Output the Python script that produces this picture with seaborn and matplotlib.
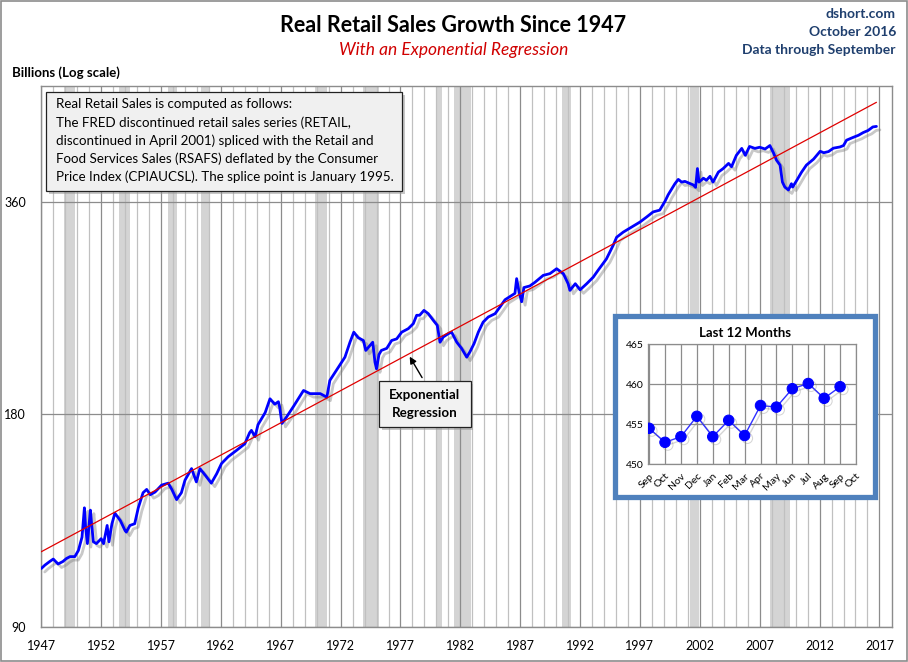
import numpy as np
import matplotlib
matplotlib.use("Agg")
import matplotlib.pyplot as plt
import matplotlib.patheffects as pe
from matplotlib.patches import Rectangle
from matplotlib.ticker import NullLocator, FixedLocator
import seaborn as sns

# ---------------- data ----------------
years = [1947.0, 1947.3, 1947.7, 1948.0, 1948.4, 1948.8, 1949.1, 1949.4, 1949.8,
         1950.1, 1950.4, 1950.6, 1950.7, 1950.85, 1951.1, 1951.2, 1951.35, 1951.6,
         1952.0, 1952.2, 1952.5, 1952.65, 1952.9, 1953.15, 1953.6, 1954.0, 1954.1,
         1954.4, 1954.8, 1955.1, 1955.5, 1955.8, 1956.1, 1956.5, 1957.05, 1957.6,
         1957.9, 1958.3, 1958.7, 1959.0, 1959.55, 1959.95, 1960.25, 1960.7, 1961.2,
         1961.65, 1962.05, 1962.6, 1963.3, 1964.0, 1964.4, 1964.55, 1964.85, 1965.1,
         1965.7, 1966.1, 1966.5, 1966.8, 1966.9, 1967.1, 1967.5, 1968.05, 1968.9,
         1969.45, 1970.3, 1970.85, 1971.1,
         1971.8, 1972.36, 1972.78, 1973.1, 1973.47, 1973.9, 1974.1, 1974.45, 1974.68,
         1974.87, 1975.0, 1975.2, 1975.4, 1975.85, 1976.26, 1976.68, 1977.1, 1977.65,
         1978.07, 1978.35, 1978.6, 1978.96, 1979.32, 1979.74, 1980.07, 1980.3, 1980.57,
         1981.0, 1981.27, 1981.7, 1982.1, 1982.53, 1982.8, 1983.14, 1983.5, 1983.9,
         1984.33, 1984.9, 1985.3, 1985.73, 1986.14, 1986.56, 1986.7, 1986.9, 1987.12,
         1987.31, 1987.8, 1988.23, 1988.92, 1989.48, 1990.04, 1990.6, 1991.0, 1991.15,
         1991.6, 1992.0, 1992.55, 1993.1, 1993.5, 1994.2, 1994.75, 1995.05, 1995.6,
         1996.3, 1997.0, 1997.55, 1998.1, 1998.65, 1999.1,
         1999.36, 1999.92, 2000.2, 2000.48, 2000.75, 2001.2, 2001.45, 2001.65, 2001.8,
         2001.93, 2002.3, 2002.55, 2002.85, 2003.1, 2003.55, 2003.95, 2004.4, 2004.65,
         2005.05, 2005.5, 2005.8, 2006.15, 2006.6, 2007.0, 2007.45, 2007.85, 2008.15,
         2008.4, 2008.7, 2008.9, 2009.1, 2009.4, 2009.65, 2009.75, 2010.1, 2010.5,
         2010.9, 2011.5, 2012.05, 2012.35, 2012.75, 2013.15, 2013.7, 2014.0, 2014.25,
         2014.8, 2015.25, 2015.65, 2016.05, 2016.45, 2016.75]
sales = [108.9, 110.1, 111.4, 112.3, 110.5, 111.4, 112.5, 113.2, 113.2,
         115.5, 120.6, 132.7, 124.6, 118.1, 131.7, 126.0, 118.8, 118.1,
         120.0, 118.1, 125.3, 118.8, 126.0, 130.4, 127.3, 123.2, 122.6,
         125.3, 126.0, 132.7, 139.4, 140.9, 138.5, 139.7, 142.9, 143.8,
         140.9, 136.3, 139.4, 145.2, 150.8, 144.4, 150.8, 147.5, 143.8,
         148.3, 153.3, 156.7, 160.0, 163.5, 169.5, 170.8, 167.3, 174.0,
         181.0, 189.3, 186.0, 187.5, 184.5, 174.7, 178.6, 184.5, 194.5,
         192.5, 192.5, 190.3, 201.0,
         209.7, 216.8, 227.6, 235.2, 231.0, 228.9, 221.6, 225.2, 227.6,
         213.2, 208.7, 218.6, 221.6, 223.1, 228.9, 230.1, 235.2, 237.9,
         241.8, 248.5, 248.5, 252.5, 249.8, 244.4, 240.5, 227.6, 231.5,
         234.1, 235.2, 227.6, 223.1, 216.8, 220.6, 226.5, 235.2, 243.0,
         247.1, 249.8, 255.2, 261.4, 264.1, 266.9, 280.0, 268.3, 259.7,
         272.0, 273.4, 276.7, 283.0, 284.6, 289.2, 284.6, 275.4, 269.5,
         275.4, 270.0, 275.4, 281.4, 287.7, 298.6, 311.8, 320.4, 325.8,
         331.2, 336.7, 342.2, 348.0, 350.0, 360.5,
         368.1, 381.5, 386.9, 383.5, 384.4, 381.5, 380.0, 377.0, 400.8,
         383.5, 388.4, 385.8, 390.8, 383.5, 396.2, 400.8, 407.6, 403.2,
         418.4, 428.0, 418.4, 430.7, 428.0, 429.6, 427.2, 432.0, 421.8,
         412.0, 405.3, 383.5, 377.3, 373.8, 381.5, 377.3, 385.8, 396.2,
         405.3, 413.3, 424.0, 422.0, 423.6, 428.3, 430.0, 432.0, 439.6,
         443.6, 446.7, 450.7, 453.7, 459.0, 459.8]

rec_start = [1948.9, 1953.5, 1957.6, 1960.3, 1969.9, 1973.85, 1980.0, 1981.5, 1990.5, 2001.2, 2007.9]
rec_end   = [1949.8, 1954.4, 1958.3, 1961.1, 1970.9, 1975.2, 1980.5, 1982.9, 1991.2, 2001.9, 2009.5]

tick_years = list(range(1947, 2018, 5))
y_ticks = [90, 180, 360]

inset_months = ["Sep", "Oct", "Nov", "Dec", "Jan", "Feb", "Mar", "Apr", "May",
                "Jun", "Jul", "Aug", "Sep", "Oct"]
inset_vals = [454.5, 452.75, 453.45, 456.0, 453.45, 455.5, 453.6, 457.35, 457.15,
              459.45, 460.1, 458.25, 459.7]
inset_ticks = [450, 455, 460, 465]

# ---------------- style ----------------
sns.set_style("white")
plt.rcParams['font.family'] = ['Lato', 'DejaVu Sans']

W, H = 908, 662
fig = plt.figure(figsize=(W / 100, H / 100), dpi=100)


def fx(px):
    return px / W


def fy(py):
    return 1 - py / H


# outer border
fig.add_artist(Rectangle((0.001, 0.001), 0.998, 0.997, transform=fig.transFigure,
                         fill=False, edgecolor="#8c8c8c", linewidth=1.2, zorder=0))

# main axes
L, R, T, B = 41.3, 892, 85.7, 627
ax = fig.add_axes([fx(L), fy(B), fx(R - L), (B - T) / H])
ax.set_zorder(0)

for s, e in zip(rec_start, rec_end):
    ax.axvspan(s, e, color="#d4d4d4", lw=0, zorder=0.2)

# regression fit from data
coef = np.polyfit(np.array(years), np.log(np.array(sales)), 1)
reg_x = np.array([years[0], years[-1]])
reg_y = np.exp(np.polyval(coef, reg_x))

sns.lineplot(x=years, y=sales, ax=ax, color="#0000ff", linewidth=2.0, zorder=3,
             path_effects=[pe.SimpleLineShadow(offset=(2.5, -2.5), shadow_color="#777777", alpha=0.4),
                           pe.Normal()])
sns.lineplot(x=reg_x, y=reg_y, ax=ax, color="#e00000", linewidth=0.9, zorder=4)

ax.set_yscale("log")
ax.set_ylim(90, 525)
ax.set_xlim(1947, 2018.05)
ax.yaxis.set_major_locator(FixedLocator(y_ticks))
ax.yaxis.set_minor_locator(NullLocator())
ax.set_yticklabels([str(v) for v in y_ticks])
ax.set_xticks(tick_years)
ax.set_xticklabels([str(y) for y in tick_years])
ax.xaxis.set_minor_locator(FixedLocator([y for y in range(1948, 2018) if (y - 1947) % 5 != 0]))
ax.tick_params(axis="both", which="both", length=0, labelsize=9, pad=9, colors="black")
ax.tick_params(axis="y", pad=11)
ax.set_axisbelow(True)
ax.grid(True, which="major", axis="x", color="#8c8c8c", linewidth=0.9)
ax.grid(True, which="minor", axis="x", color="#c0c0c0", linewidth=0.9)
ax.grid(True, which="major", axis="y", color="#8c8c8c", linewidth=0.9)
for sp in ax.spines.values():
    sp.set_color("#8c8c8c")
    sp.set_linewidth(1.0)
ax.set_xlabel("")
ax.set_ylabel("")

# titles
fig.text(fx(453), fy(25), "Real Retail Sales Growth Since 1947", ha="center", va="center",
         fontsize=15.5, fontweight="bold", color="black")
fig.text(fx(454), fy(50), "With an Exponential Regression", ha="center", va="center",
         fontsize=12.5, style="italic", color="#d00000")
navy = "#1f3f6e"
fig.text(fx(896), fy(14.5), "dshort.com", ha="right", va="center", fontsize=10, fontweight="bold", color=navy)
fig.text(fx(896), fy(32.5), "October 2016", ha="right", va="center", fontsize=10, fontweight="bold", color=navy)
fig.text(fx(896), fy(50.5), "Data through September", ha="right", va="center", fontsize=10, fontweight="bold", color=navy)
fig.text(fx(12.5), fy(72.5), "Billions (Log scale)", ha="left", va="center", fontsize=9.5, fontweight="bold", color="black")


def shadow_box(x0, y0, x1, y1, face, edge, lw, z):
    fig.add_artist(Rectangle((fx(x0 + 3), fy(y1 + 3)), fx(x1 - x0), (y1 - y0) / H,
                             transform=fig.transFigure, facecolor="#9a9a9a", edgecolor="none",
                             alpha=0.55, zorder=z - 0.1))
    fig.add_artist(Rectangle((fx(x0), fy(y1)), fx(x1 - x0), (y1 - y0) / H,
                             transform=fig.transFigure, facecolor=face, edgecolor=edge,
                             linewidth=lw, zorder=z))


# notes box
shadow_box(46, 92, 402, 191, "#f0f0f0", "#222222", 0.9, 5)
note_lines = ["Real Retail Sales is computed as follows:",
              "The FRED discontinued retail sales series (RETAIL,",
              "discontinued in April 2001) spliced with the Retail and",
              "Food Services Sales (RSAFS) deflated by the Consumer",
              "Price Index (CPIAUCSL). The splice point is January 1995."]
for i, line in enumerate(note_lines):
    fig.text(fx(56.5), fy(104.5 + i * 18.1), line, ha="left", va="center", fontsize=9.6,
             color="black", zorder=6)

# regression label box
shadow_box(378.5, 381, 470.5, 427, "#f2f2f2", "#222222", 0.9, 5)
fig.text(fx(424.5), fy(395), "Exponential", ha="center", va="center", fontsize=9.6,
         fontweight="bold", color="black", zorder=6)
fig.text(fx(424.5), fy(413), "Regression", ha="center", va="center", fontsize=9.6,
         fontweight="bold", color="black", zorder=6)
arrow_x = 1977.65
ax.annotate("", xy=(arrow_x, float(np.exp(np.polyval(coef, arrow_x)))),
            xytext=(fx(423.5), fy(380)), textcoords="figure fraction",
            arrowprops=dict(arrowstyle="-|>", color="black", lw=1.0, mutation_scale=10),
            zorder=6)

# inset frame
fig.add_artist(Rectangle((fx(615), fy(497)), fx(260), 181 / H, transform=fig.transFigure,
                         facecolor="white", edgecolor="#4f81bd", linewidth=3.8, zorder=7))
axi = fig.add_axes([fx(648.3), fy(464.3), fx(856 - 648.3), (464.3 - 344.3) / H])
axi.set_zorder(8)
axi.patch.set_facecolor("white")
sns.lineplot(x=list(range(len(inset_vals))), y=inset_vals, ax=axi, color="#3030ff",
             linewidth=1.0, marker="o", markersize=7.5, markerfacecolor="#0000ff",
             markeredgecolor="#0000ff", zorder=3,
             path_effects=[pe.SimpleLineShadow(offset=(2, -2), shadow_color="#888888", alpha=0.35),
                           pe.Normal()])
axi.set_xlim(-0.05, 13)
axi.set_ylim(450, 465)
axi.set_yticks(inset_ticks)
axi.set_yticklabels([str(v) for v in inset_ticks])
axi.set_xticks(list(range(len(inset_months))))
axi.set_xticklabels(inset_months, rotation=45, ha="right", rotation_mode="anchor")
axi.tick_params(axis="both", length=0, labelsize=7.5, pad=3, colors="black")
axi.tick_params(axis="x", pad=5)
axi.grid(True, color="#8c8c8c", linewidth=0.9)
axi.set_axisbelow(True)
for sp in axi.spines.values():
    sp.set_color("#8c8c8c")
    sp.set_linewidth(0.9)
axi.set_xlabel("")
axi.set_ylabel("")
fig.text(fx(745), fy(333), "Last 12 Months", ha="center", va="center", fontsize=9.5,
         fontweight="bold", color="black", zorder=9)

fig.savefig("out.png", dpi=100)
